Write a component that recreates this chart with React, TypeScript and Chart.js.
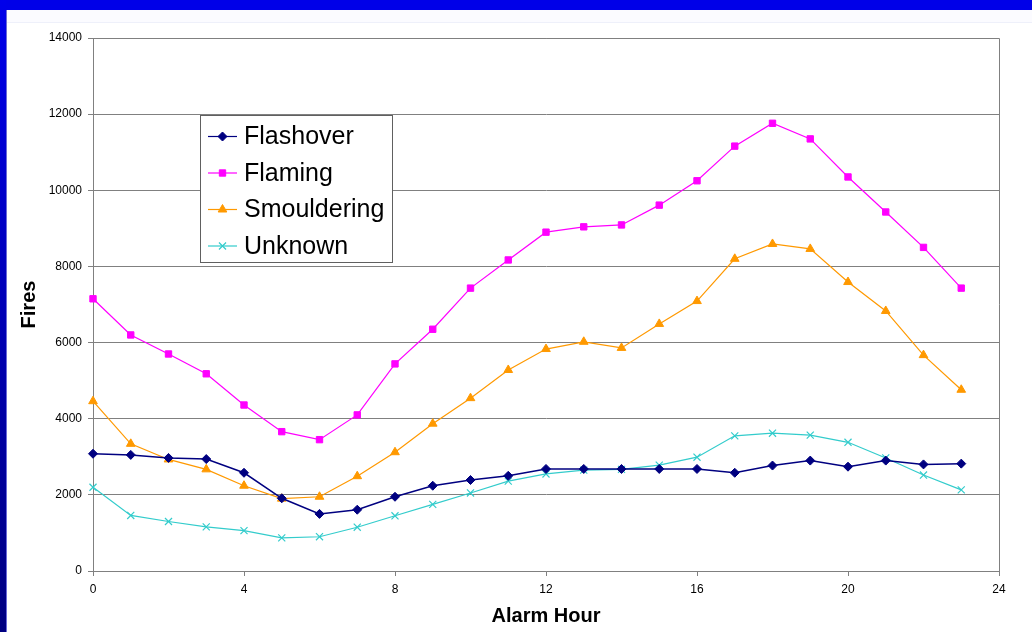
import React, { useEffect, useRef } from "react";
import { Chart, registerables } from "chart.js";
import { drawPoint } from "chart.js/helpers";

Chart.register(...registerables);

const hours = [0, 1, 2, 3, 4, 5, 6, 7, 8, 9, 10, 11, 12, 13, 14, 15, 16, 17, 18, 19, 20, 21, 22, 23];
const flashover = [3080, 3050, 2970, 2940, 2580, 1910, 1500, 1610, 1950, 2240, 2390, 2500, 2680, 2680, 2680, 2680, 2680, 2580, 2770, 2900, 2740, 2900, 2800, 2820];
const flaming = [7150, 6200, 5700, 5180, 4360, 3660, 3450, 4100, 5440, 6350, 7430, 8170, 8900, 9040, 9090, 9610, 10250, 11160, 11760, 11350, 10350, 9430, 8500, 7430];
const smouldering = [4460, 3340, 2930, 2670, 2240, 1900, 1950, 2490, 3120, 3870, 4540, 5280, 5830, 6020, 5860, 6490, 7090, 8200, 8590, 8460, 7590, 6830, 5670, 4760];
const unknown = [2200, 1460, 1300, 1160, 1060, 870, 900, 1150, 1450, 1750, 2050, 2360, 2550, 2650, 2670, 2780, 2990, 3550, 3620, 3570, 3380, 2970, 2520, 2130];

const seriesNames = ["Flashover", "Flaming", "Smouldering", "Unknown"];
const xTicks = [0, 4, 8, 12, 16, 20, 24];
const yMax = 14000;
const yStep = 2000;

const FONT = "'Liberation Sans', Arial, sans-serif";

const framePlugin = {
  id: "frame",
  beforeDraw(chart: any) {
    const { ctx, width, height } = chart;
    ctx.save();
    ctx.fillStyle = "#ffffff";
    ctx.fillRect(0, 0, width, height);
    ctx.fillStyle = "#fbfbff";
    ctx.fillRect(0, 10, width, 12);
    ctx.fillStyle = "#eef0fa";
    ctx.fillRect(0, 22, width, 1);
    ctx.fillStyle = "#0000e8";
    ctx.fillRect(0, 0, width, 10);
    const g = ctx.createLinearGradient(0, 0, 0, height);
    g.addColorStop(0, "#0000ea");
    g.addColorStop(1, "#000080");
    ctx.fillStyle = g;
    ctx.fillRect(0, 0, 6, height);
    ctx.fillStyle = "#6a6ad8";
    ctx.fillRect(6, 10, 1, height - 10);
    ctx.restore();
  },
  beforeDatasetsDraw(chart: any) {
    const { ctx, chartArea } = chart;
    ctx.save();
    ctx.strokeStyle = "#808080";
    ctx.lineWidth = 1;
    ctx.beginPath();
    ctx.moveTo(chartArea.left, Math.round(chartArea.top) + 0.5);
    ctx.lineTo(Math.round(chartArea.right) + 0.5, Math.round(chartArea.top) + 0.5);
    ctx.lineTo(Math.round(chartArea.right) + 0.5, chartArea.bottom);
    ctx.stroke();
    ctx.restore();
  },
};

const legendPlugin = {
  id: "boxLegend",
  afterDraw(chart: any) {
    const { ctx } = chart;
    const x0 = 200.5, y0 = 115.5, w = 192, h = 147;
    ctx.save();
    ctx.fillStyle = "#ffffff";
    ctx.fillRect(x0, y0, w, h);
    ctx.strokeStyle = "#606060";
    ctx.lineWidth = 1;
    ctx.strokeRect(x0, y0, w, h);
    const rowY = [136.5, 173, 209.5, 246];
    chart.data.datasets.forEach((ds: any, i: number) => {
      const y = rowY[i];
      ctx.strokeStyle = ds.borderColor;
      ctx.lineWidth = 1.2;
      ctx.beginPath();
      ctx.moveTo(208, y);
      ctx.lineTo(237, y);
      ctx.stroke();
      ctx.fillStyle = ds.pointBackgroundColor;
      ctx.strokeStyle = ds.pointBorderColor;
      ctx.lineWidth = ds.pointBorderWidth;
      drawPoint(ctx, { pointStyle: ds.pointStyle, radius: ds.pointRadius, rotation: 0, borderWidth: ds.pointBorderWidth }, 222.5, y);
      ctx.fillStyle = "#000000";
      ctx.font = `25px ${FONT}`;
      ctx.textBaseline = "middle";
      ctx.textAlign = "left";
      ctx.fillText(ds.label, 244, y + 1);
    });
    ctx.restore();
  },
};

export default function App() {
  const ref = useRef<HTMLCanvasElement | null>(null);
  useEffect(() => {
    if (!ref.current) return;
    const mk = (vals: number[]) => hours.map((h, i) => ({ x: h, y: vals[i] }));
    const chart = new Chart(ref.current, {
      type: "line",
      data: {
        datasets: [
          {
            label: seriesNames[0],
            data: mk(flashover),
            borderColor: "#000080",
            backgroundColor: "#000080",
            pointBackgroundColor: "#000080",
            pointBorderColor: "#000080",
            pointBorderWidth: 1,
            pointStyle: "rectRot",
            pointRadius: 4.5,
            borderWidth: 1.5,
            clip: false,
          },
          {
            label: seriesNames[1],
            data: mk(flaming),
            borderColor: "#ff00ff",
            backgroundColor: "#ff00ff",
            pointBackgroundColor: "#ff00ff",
            pointBorderColor: "#ff00ff",
            pointBorderWidth: 1,
            pointStyle: "rect",
            pointRadius: 4.5,
            borderWidth: 1.2,
            clip: false,
          },
          {
            label: seriesNames[2],
            data: mk(smouldering),
            borderColor: "#ff9900",
            backgroundColor: "#ff9900",
            pointBackgroundColor: "#ff9900",
            pointBorderColor: "#ff9900",
            pointBorderWidth: 1,
            pointStyle: "triangle",
            pointRadius: 5,
            borderWidth: 1.2,
            clip: false,
          },
          {
            label: seriesNames[3],
            data: mk(unknown),
            borderColor: "#33cccc",
            backgroundColor: "#33cccc",
            pointBackgroundColor: "#33cccc",
            pointBorderColor: "#33cccc",
            pointBorderWidth: 1.2,
            pointStyle: "crossRot",
            pointRadius: 5,
            borderWidth: 1.2,
            clip: false,
          },
        ],
      },
      options: {
        animation: false,
        responsive: false,
        events: [],
        layout: { padding: { left: 8, top: 38, right: 33, bottom: 0 } },
        plugins: { legend: { display: false }, tooltip: { enabled: false } },
        scales: {
          x: {
            type: "linear",
            min: 0,
            max: 24,
            afterFit: (s: any) => { s.height = 61; },
            afterBuildTicks: (s: any) => { s.ticks = xTicks.map((v) => ({ value: v })); },
            ticks: { color: "#000000", font: { family: FONT, size: 12 }, padding: 6, maxRotation: 0, autoSkip: false, callback: (v: any) => String(v) },
            grid: { drawOnChartArea: false, drawTicks: true, tickLength: 5, color: "#808080" },
            border: { display: true, color: "#808080" },
            title: { display: true, text: "Alarm Hour", color: "#000000", font: { family: FONT, size: 20, weight: "bold" }, padding: { top: 4, bottom: 4 } },
          },
          y: {
            type: "linear",
            min: 0,
            max: yMax,
            afterFit: (s: any) => { s.width = 85; },
            ticks: { stepSize: yStep, color: "#000000", font: { family: FONT, size: 12 }, padding: 6, callback: (v: any) => String(v) },
            grid: { drawTicks: true, tickLength: 5, color: "#808080" },
            border: { display: true, color: "#808080" },
            title: { display: true, text: "Fires", color: "#000000", font: { family: FONT, size: 20, weight: "bold" }, padding: { top: 9, bottom: 9 } },
          },
        },
      },
      plugins: [framePlugin, legendPlugin],
    } as any);
    return () => chart.destroy();
  }, []);
  return (
    <div style={{ position: "absolute", left: 0, top: 0, width: 1032, height: 632 }}>
      <canvas ref={ref} width={1032} height={632} style={{ display: "block" }} />
    </div>
  );
}
